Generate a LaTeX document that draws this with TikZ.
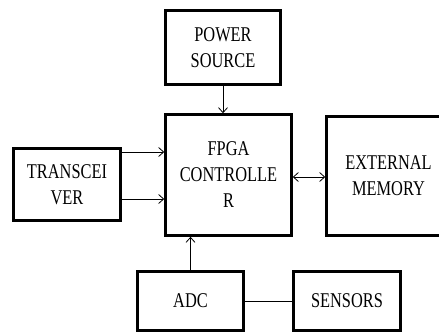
\documentclass[tikz,border=0pt]{standalone}
\usepackage{fontspec}
\setmainfont[FakeStretch=0.78]{Liberation Serif}
\usepackage{tikz}
\usetikzlibrary{arrows.meta,positioning,calc}

\tikzset{
  block/.style={draw=black, line width=2.6pt, fill=white, align=center,
    inner sep=0pt, font=\fontsize{21}{26}\selectfont},
  barb/.tip={Straight Barb[length=5pt,width=9pt]},
  link/.style={line width=0.8pt, -barb},
  twolink/.style={line width=0.8pt, barb-barb},
}

\begin{document}
\begin{tikzpicture}[x=1pt,y=-1pt]
        \useasboundingbox (0,0) rectangle (439,333);
        % blocks
        \node[block, minimum width=115pt, minimum height=74pt] (power) at (223,47.5) {POWER\\SOURCE};
        \node[block, minimum width=126pt, minimum height=121pt] (fpga) at (228.5,175) {FPGA\\CONTROLLE\\R};
        \node[block, minimum width=124pt, minimum height=119pt] (memory) at (388.5,176) {EXTERNAL\\MEMORY};
        \node[block, minimum width=107pt, minimum height=72pt] (trans) at (67,184.5) {TRANSCEI\\VER};
        \node[block, minimum width=106pt, minimum height=59pt] (adc) at (190.5,301) {ADC};
        \node[block, minimum width=107pt, minimum height=59pt] (sensors) at (347,301) {SENSORS};
        % connectors
        \draw[link] (power.south) -- (power.south |- fpga.north);
        \draw[link] ([yshift=32.5pt]trans.east) -- ([yshift=32.5pt]trans.east -| fpga.west);
        \draw[link] ([yshift=-14.5pt]trans.east) -- ([yshift=-14.5pt]trans.east -| fpga.west);
        \draw[twolink] ([yshift=-2pt]fpga.east) -- ([yshift=-2pt]fpga.east -| memory.west);
        \draw[link] (adc.north) -- (adc.north |- fpga.south);
        \draw[line width=0.8pt] (adc) -- (sensors);
      \end{tikzpicture}
\end{document}
